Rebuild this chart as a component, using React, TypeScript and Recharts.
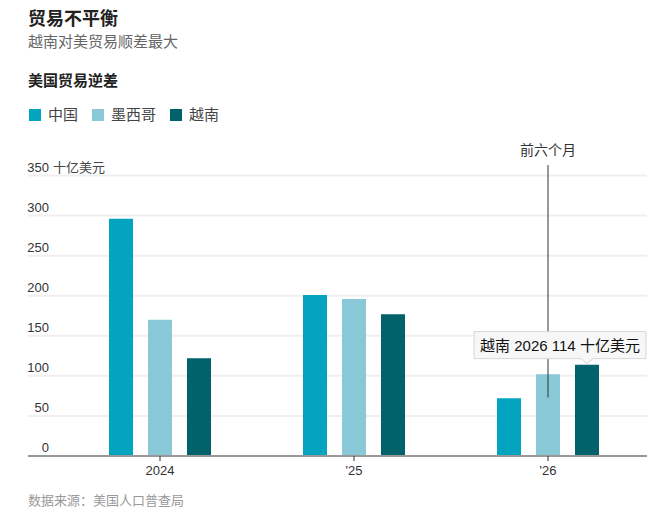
import React from 'react'
import { BarChart, Bar, XAxis, YAxis, CartesianGrid, ReferenceLine, LabelList } from 'recharts'

const years = ['2024', '2025', '2026']
const yearLabels = ['2024', "'25", "'26"]
const china = [296, 201, 72]
const mexico = [170, 196, 102]
const vietnam = [122, 177, 114]
const yTicks = [0, 50, 100, 150, 200, 250, 300, 350]
const annotationSpan = [73, 363]

const series = [
  { key: 'china', name: '中国', color: '#02a4bf' },
  { key: 'mexico', name: '墨西哥', color: '#89c9d7' },
  { key: 'vietnam', name: '越南', color: '#02626b' },
]

const data = years.map((year, i) => ({
  year,
  china: china[i],
  mexico: mexico[i],
  vietnam: vietnam[i],
}))

const FONT = '"Liberation Sans", "Noto Sans CJK SC", sans-serif'
const W = 659
const H = 519
const LEFT = 28
const RIGHT = 12

const YTick = (props: any) => {
  const { y, payload } = props
  const isTop = payload.value === yTicks[yTicks.length - 1]
  return (
    <g>
      <text x={LEFT + 21} y={y - 4} textAnchor="end" fill="#333" fontSize={13}>
        {payload.value}
      </text>
      {isTop && (
        <text x={LEFT + 25} y={y - 4} textAnchor="start" fill="#444" fontSize={13}>
          十亿美元
        </text>
      )}
    </g>
  )
}

const XTick = (props: any) => {
  const { x, y, payload } = props
  const idx = years.indexOf(payload.value)
  return (
    <text x={x} y={y + 12} textAnchor="middle" fill="#333" fontSize={13}>
      {yearLabels[idx]}
    </text>
  )
}

const TipBox = (props: any) => {
  const { x, y, width, index } = props
  if (index !== years.length - 1) return null
  const cx = x + width / 2
  const bottom = y - 6
  const top = y - 33
  const l = cx - 113
  const r = cx + 59
  const d = `M${l},${top} L${r},${top} L${r},${bottom} L${cx + 6},${bottom} L${cx},${y - 1} L${cx - 6},${bottom} L${l},${bottom} Z`
  return (
    <g>
      <path d={d} fill="#f7f7f7" stroke="#d6d6d6" strokeWidth={1} />
      <text x={(l + r) / 2} y={bottom - 8} textAnchor="middle" fill="#111" fontSize={15}>
        {`越南 ${years[index]} ${vietnam[index]} 十亿美元`}
      </text>
    </g>
  )
}

export default function App() {
  return (
    <div style={{ position: 'absolute', left: 0, top: 0, width: W, height: H, fontFamily: FONT, background: '#fff' }}>
      <div style={{ position: 'absolute', left: 28, top: 10, fontSize: 18, lineHeight: '18px', fontWeight: 'bold', color: '#222' }}>
        贸易不平衡
      </div>
      <div style={{ position: 'absolute', left: 28, top: 34, fontSize: 15, lineHeight: '15px', color: '#666' }}>
        越南对美贸易顺差最大
      </div>
      <div style={{ position: 'absolute', left: 28, top: 73, fontSize: 15, lineHeight: '15px', fontWeight: 'bold', color: '#222' }}>
        美国贸易逆差
      </div>
      <div style={{ position: 'absolute', left: 29, top: 106, display: 'flex', alignItems: 'center', fontSize: 15, lineHeight: '17px', color: '#444' }}>
        {series.map((s) => (
          <div key={s.key} style={{ display: 'flex', alignItems: 'center', marginRight: 14 }}>
            <span style={{ width: 12, height: 12, background: s.color, display: 'inline-block', marginRight: 7 }} />
            <span>{s.name}</span>
          </div>
        ))}
      </div>
      <div style={{ position: 'absolute', left: 0, top: 0 }}>
        <BarChart
          width={W}
          height={H}
          data={data}
          margin={{ top: 175.5, right: RIGHT, left: 0, bottom: 33 }}
          barSize={24}
          barGap={15}
        >
          <CartesianGrid horizontal vertical={false} stroke="#efefef" strokeWidth={2} />
          <XAxis
            dataKey="year"
            height={30}
            padding={{ left: 35, right: 2 }}
            axisLine={{ stroke: '#999', strokeWidth: 2 }}
            tickLine={{ stroke: '#333' }}
            tickSize={5}
            tick={<XTick />}
          />
          <YAxis
            width={LEFT}
            domain={[0, 350]}
            ticks={yTicks}
            axisLine={false}
            tickLine={false}
            tick={<YTick />}
          />
          {series.map((s) => (
            <Bar key={s.key} dataKey={s.key} name={s.name} fill={s.color} isAnimationActive={false}>
              {s.key === 'vietnam' && <LabelList dataKey="vietnam" content={<TipBox />} />}
            </Bar>
          ))}
          <ReferenceLine
            segment={[
              { x: years[2], y: annotationSpan[0] },
              { x: years[2], y: annotationSpan[1] },
            ]}
            ifOverflow="visible"
            zIndex={700}
            stroke="#333"
            strokeWidth={1}
            label={{ value: '前六个月', position: 'top', offset: 10, fill: '#333', fontSize: 14 }}
          />
        </BarChart>
      </div>
      <div style={{ position: 'absolute', left: 28, top: 494, fontSize: 13, lineHeight: '14px', color: '#999' }}>
        数据来源：美国人口普查局
      </div>
    </div>
  )
}
